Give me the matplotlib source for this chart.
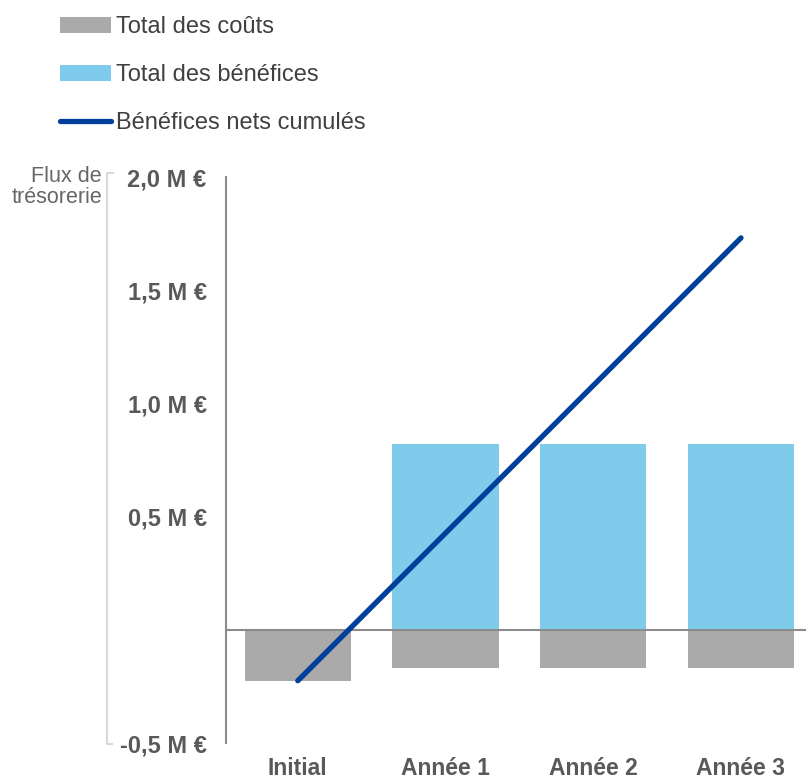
import matplotlib.pyplot as plt
from matplotlib.lines import Line2D

plt.rcParams['font.family'] = ['Liberation Sans', 'DejaVu Sans']

# values in millions of euros
periods = ['Initial', 'Année 1', 'Année 2', 'Année 3']
total_costs = [0.225, 0.168, 0.168, 0.168]
total_benefits = [0.0, 0.82, 0.82, 0.82]
cumulative_net = [-0.225, 0.427, 1.079, 1.731]
y_ticks = [-0.5, 0.5, 1.0, 1.5, 2.0]
y_tick_labels = ['-0,5 M €', '0,5 M €', '1,0 M €', '1,5 M €', '2,0 M €']

fig = plt.figure(figsize=(8.06, 7.81), dpi=100)
ax = fig.add_axes([226 / 806, 1 - 743 / 781, 1 - 226 / 806, (743 - 177) / 781])

x = list(range(len(periods)))
ax.bar(x, [-c for c in total_costs], width=0.72, color='#aaaaaa', label='Total des coûts', zorder=2)
ax.bar(x, total_benefits, width=0.72, color='#7fcbec', label='Total des bénéfices', zorder=2)
ax.axhline(0, color='#8c8c8c', linewidth=1.5, zorder=3)
ax.plot(x, cumulative_net, color='#00409a', linewidth=3.8, solid_capstyle='round',
        label='Bénéfices nets cumulés', zorder=4)

ax.set_xlim(-0.486, 3.44)
ax.set_ylim(-0.5, 2.0)
ax.set_yticks(y_ticks)
ax.set_yticklabels(y_tick_labels, fontsize=17, fontweight='bold', color='#595959')
ax.set_xticks(x)
ax.set_xticklabels(periods, fontsize=16.5, fontweight='bold', color='#595959')
ax.tick_params(axis='y', length=0, pad=14)
ax.tick_params(axis='x', length=0, pad=10)
for side in ['top', 'right', 'bottom']:
    ax.spines[side].set_visible(False)
ax.spines['left'].set_color('#8c8c8c')
ax.spines['left'].set_linewidth(1.5)

# axis title with light bracket
fig.text(102 / 806, 1 - 187 / 781, 'Flux de\ntrésorerie', ha='right', va='center',
         fontsize=15.5, color='#666666', linespacing=1.05)
bx = [113 / 806, 107 / 806, 107 / 806, 112 / 806]
by = [1 - 173 / 781, 1 - 173 / 781, 1 - 744 / 781, 1 - 744 / 781]
fig.add_artist(Line2D(bx, by, color='#d9d9d9', linewidth=1.5, transform=fig.transFigure))

handles, labels = ax.get_legend_handles_labels()
h = {l: hd for hd, l in zip(handles, labels)}
leg_labels = ['Total des coûts', 'Total des bénéfices', 'Bénéfices nets cumulés']
fig.legend([h[l] for l in leg_labels], leg_labels, loc='upper left',
           bbox_to_anchor=(51 / 806, 1 - 7 / 781), frameon=False, fontsize=17,
           handlelength=2.12, handletextpad=0.25, labelspacing=1.09,
           labelcolor='#404040', borderaxespad=0)

plt.savefig('out.png', dpi=100)
